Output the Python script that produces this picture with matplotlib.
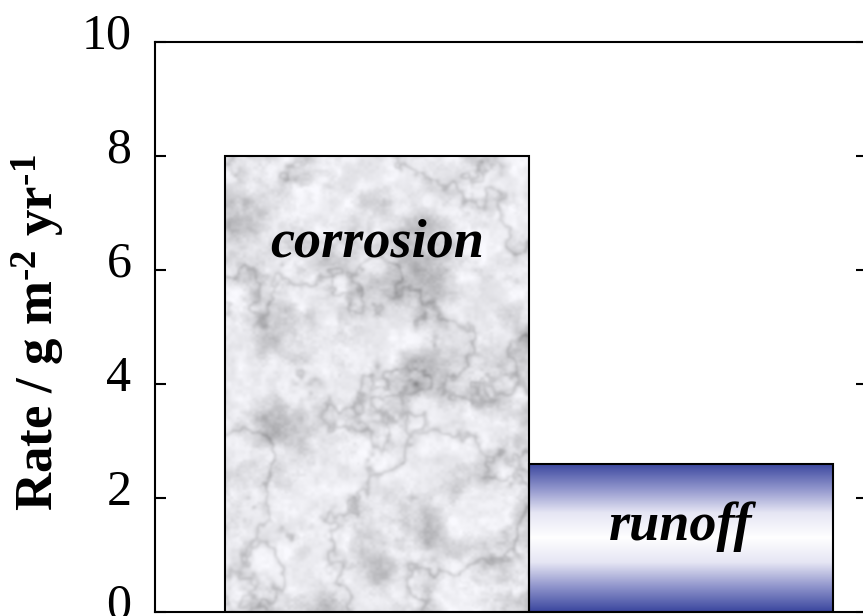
import numpy as np
import matplotlib
matplotlib.use("Agg")
import matplotlib.pyplot as plt
from matplotlib.colors import LinearSegmentedColormap
from matplotlib.transforms import ScaledTranslation

# data
labels = ["corrosion", "runoff"]
rates = [8.0, 2.6]          # g m-2 yr-1
label_y = [6.23, 1.26]      # baseline height of the in-bar text
yticks = [0, 2, 4, 6, 8, 10]

plt.rcParams['font.family'] = ['Liberation Serif', 'DejaVu Serif']
plt.rcParams['mathtext.fontset'] = 'custom'
plt.rcParams['mathtext.rm'] = 'Liberation Serif:bold'
plt.rcParams['mathtext.default'] = 'rm'


def value_noise(rng, h, w, cy, cx):
    # smooth interpolated random grid
    g = rng.random((cy + 2, cx + 2))
    ys = np.linspace(0, cy, h)
    xs = np.linspace(0, cx, w)
    y0 = np.minimum(ys.astype(int), cy)
    x0 = np.minimum(xs.astype(int), cx)
    fy = (ys - y0)[:, None]
    fx = (xs - x0)[None, :]
    fy = fy * fy * (3 - 2 * fy)
    fx = fx * fx * (3 - 2 * fx)
    y0 = y0[:, None]
    x0 = x0[None, :]
    a = g[y0, x0]
    b = g[y0, x0 + 1]
    c = g[y0 + 1, x0]
    d = g[y0 + 1, x0 + 1]
    return (a * (1 - fx) + b * fx) * (1 - fy) + (c * (1 - fx) + d * fx) * fy


def fbm(rng, h, w, cy, cx, octaves=5):
    out = np.zeros((h, w))
    amp, tot = 1.0, 0.0
    for k in range(octaves):
        out += amp * value_noise(rng, h, w, cy * 2 ** k, cx * 2 ** k)
        tot += amp
        amp *= 0.6
    return out / tot


def blur(a, n=2):
    for _ in range(n):
        a = (a + np.roll(a, 1, 0) + np.roll(a, -1, 0) + np.roll(a, 1, 1) + np.roll(a, -1, 1)) / 5
    return a


def marble(h, w):
    rng = np.random.default_rng(11)
    blot = fbm(rng, h, w, 10, 6, 5)
    fine = fbm(rng, h, w, 30, 20, 3)
    ridge = fbm(rng, h, w, 6, 4, 5)
    r = 1 - np.abs(2 * ridge - 1)
    veins = blur(r ** 24, 3)
    mottle = np.clip((blot - 0.42) * 2.4, 0, 1) ** 1.2
    v = 0.95 - 0.26 * mottle - 0.16 * (fine - 0.5) - 0.18 * veins
    v = np.clip(v, 0.5, 1)
    img = np.stack([v * 0.98, v * 0.98, v * 1.0], axis=-1)
    return np.clip(img, 0, 1)


fig = plt.figure(figsize=(8.63, 6.16), dpi=100)
ax = fig.add_axes([155 / 863, 4 / 616, 712 / 863, 570 / 616])

bars = ax.bar(range(len(rates)), rates, width=1.0, facecolor='none',
              edgecolor='black', linewidth=1.5, zorder=3)

# marble fill for the corrosion bar
b0 = bars[0]
im0 = ax.imshow(marble(460, 300), extent=(b0.get_x(), b0.get_x() + b0.get_width(), 0, b0.get_height()),
                aspect='auto', zorder=2, interpolation='bilinear')
im0.set_clip_path(b0)

# blue-white-blue gradient for the runoff bar
b1 = bars[1]
grad_cmap = LinearSegmentedColormap.from_list(
    'runoff', ['#3a469e', '#8e93cb', '#e6e6f4', '#ffffff', '#e6e6f4', '#8e93cb', '#3a469e'])
grad = np.linspace(0, 1, 256)[:, None]
im1 = ax.imshow(grad, cmap=grad_cmap, extent=(b1.get_x(), b1.get_x() + b1.get_width(), 0, b1.get_height()),
                aspect='auto', zorder=2, interpolation='bilinear')
im1.set_clip_path(b1)

for i, (name, ly) in enumerate(zip(labels, label_y)):
    ax.text(i, ly, name, ha='center', va='baseline', fontsize=39,
            fontweight='bold', fontstyle='italic', zorder=4)

ax.set_xlim(-0.73, 1.612)
ax.set_ylim(0, 10)
ax.set_xticks([])
ax.set_yticks(yticks)
ax.tick_params(axis='y', direction='in', left=True, right=True, length=8, width=1.5,
               labelsize=36, pad=17)
for sp in ax.spines.values():
    sp.set_linewidth(1.5)

# tick numbers sit a little above their ticks in the original
for lab in ax.get_yticklabels():
    lab.set_transform(lab.get_transform() + ScaledTranslation(0, 11 / 100, fig.dpi_scale_trans))

ax.set_ylabel(r'Rate / g m$^{\text{-}2}$ yr$^{\text{-}1}$', fontsize=38, fontweight='bold')
ax.yaxis.set_label_coords(-0.123, 0.49)

fig.savefig('out.png', dpi=100)
